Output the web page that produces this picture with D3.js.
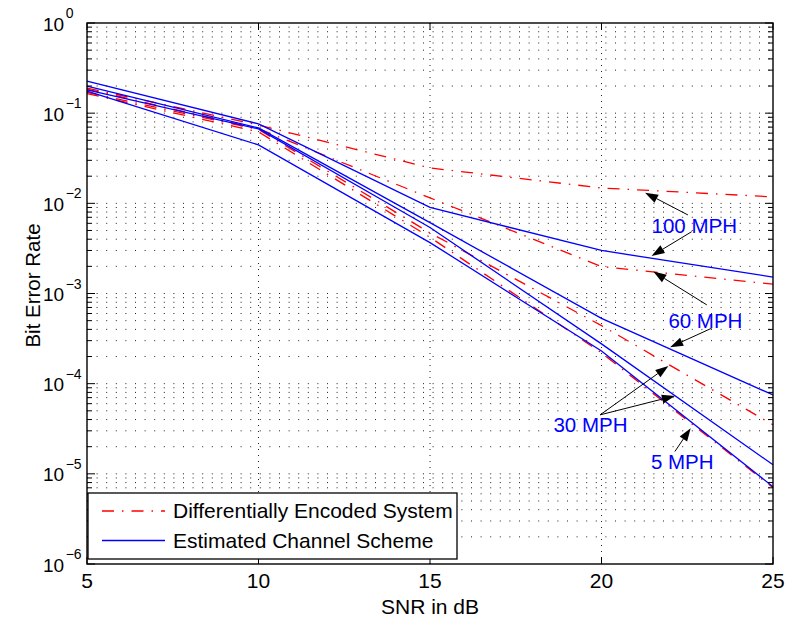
<!DOCTYPE html>
<html>
<head>
<meta charset="utf-8">
<script src="https://cdn.jsdelivr.net/npm/d3@7"></script>
<style>
  body { margin: 0; background: #fff; }
  text { font-family: "Liberation Sans", Arial, Helvetica, sans-serif; }
</style>
</head>
<body>
<div id="chart"></div>
<script>
// SNR points (dB)
var snr = [5, 10, 15, 20, 25];

// Estimated channel scheme (blue, solid)
var est100 = [0.227, 0.076, 0.0090, 0.0030, 0.00152];
var est60  = [0.200, 0.0686, 0.0061, 0.00053, 0.000075];
var est30  = [0.181, 0.0668, 0.0054, 0.000276, 0.0000126];
var est5   = [0.176, 0.0444, 0.00367, 0.00023, 0.0000072];

// Differentially encoded system (red, dash-dot)
var diff100 = [0.190, 0.074, 0.0247, 0.0148, 0.0118];
var diff60  = [0.185, 0.067, 0.0115, 0.00199, 0.00127];
var diff30  = [0.170, 0.066, 0.0047, 0.00044, 0.000035];
var diff5   = [0.165, 0.062, 0.0042, 0.00022, 0.0000070];

var xTicks = [5, 10, 15, 20, 25];
var yExps = [0, -1, -2, -3, -4, -5, -6];

// speed labels: text anchor and arrows, in data units [snr, ber]
var notes = [
  {label: "100 MPH", at: [21.46, 0.00466],
   arrows: [[[22.52, 0.00743], [21.27, 0.01314]], [[22.63, 0.00485], [21.46, 0.00261]]]},
  {label: "60 MPH", at: [21.95, 0.000419],
   arrows: [[[23.07, 0.000748], [21.51, 0.00175]], [[23.21, 0.000412], [22.0, 0.000254]]]},
  {label: "30 MPH", at: [18.6, 0.0000294],
   arrows: [[[19.96, 0.0000451], [21.95, 0.000157]], [[19.96, 0.0000451], [22.14, 0.0000732]]]},
  {label: "5 MPH", at: [21.44, 0.0000113],
   arrows: [[[22.14, 0.0000177], [22.6, 0.0000321]]]}
];

var W = 786, H = 624;
var margin = {top: 23, right: 13, bottom: 60, left: 87},
    width = W - margin.left - margin.right,
    height = H - margin.top - margin.bottom;

var svg = d3.select("#chart").append("svg")
    .attr("width", W)
    .attr("height", H);

var g = svg.append("g")
    .attr("transform", "translate(" + margin.left + "," + margin.top + ")");

var x = d3.scaleLinear().domain([5, 25]).range([0, width]);
var y = d3.scaleLog().domain([1e-6, 1]).range([height, 0]);

// all major + minor y values
var yAll = [];
for (var e = -6; e < 0; e++) {
  for (var m = 1; m < 10; m++) yAll.push(m * Math.pow(10, e));
}
yAll.push(1);

// grid (MATLAB style dotted)
g.append("g").selectAll("line")
  .data(yAll.filter(function(v){ return v > 1e-6 && v < 1; }))
  .enter().append("line")
    .attr("x1", 0).attr("x2", width)
    .attr("y1", function(d){ return y(d); })
    .attr("y2", function(d){ return y(d); })
    .attr("stroke", "#222")
    .attr("stroke-width", 1)
    .attr("stroke-dasharray", "1,8.6");

g.append("g").selectAll("line")
  .data(xTicks.slice(1, -1))
  .enter().append("line")
    .attr("x1", function(d){ return x(d); })
    .attr("x2", function(d){ return x(d); })
    .attr("y1", 0).attr("y2", height)
    .attr("stroke", "#222")
    .attr("stroke-width", 1)
    .attr("stroke-dasharray", "1,5");

// lines
var line = d3.line()
  .x(function(d){ return x(d[0]); })
  .y(function(d){ return y(d[1]); });

function zipSeries(vals) { return snr.map(function(s, i){ return [s, vals[i]]; }); }

[diff100, diff60, diff30, diff5].forEach(function(s) {
  g.append("path")
    .attr("d", line(zipSeries(s)))
    .attr("fill", "none")
    .attr("stroke", "#ff0000")
    .attr("stroke-width", 1.3)
    .attr("stroke-dasharray", "12,8,1.5,8");
});

[est100, est60, est30, est5].forEach(function(s) {
  g.append("path")
    .attr("d", line(zipSeries(s)))
    .attr("fill", "none")
    .attr("stroke", "#0000ff")
    .attr("stroke-width", 1.3);
});

// ticks inside the box
var tk = g.append("g").attr("stroke", "#000").attr("stroke-width", 1);
yAll.forEach(function(v) {
  var major = Math.abs(Math.log10(v) - Math.round(Math.log10(v))) < 1e-9;
  var len = major ? 8 : 5;
  tk.append("line").attr("x1", 0).attr("x2", len).attr("y1", y(v)).attr("y2", y(v));
  tk.append("line").attr("x1", width).attr("x2", width - len).attr("y1", y(v)).attr("y2", y(v));
});
xTicks.forEach(function(v) {
  tk.append("line").attr("x1", x(v)).attr("x2", x(v)).attr("y1", height).attr("y2", height - 7);
  tk.append("line").attr("x1", x(v)).attr("x2", x(v)).attr("y1", 0).attr("y2", 7);
});

// frame
g.append("rect")
  .attr("width", width).attr("height", height)
  .attr("fill", "none").attr("stroke", "#000").attr("stroke-width", 1.4);

// x tick labels
g.append("g").selectAll("text")
  .data(xTicks)
  .enter().append("text")
    .attr("x", function(d){ return x(d); })
    .attr("y", height + 24)
    .attr("text-anchor", "middle")
    .attr("font-size", 21)
    .text(function(d){ return d; });

// y tick labels 10^n
var yl = g.append("g").selectAll("text")
  .data(yExps)
  .enter().append("text")
    .attr("x", 43 - margin.left)
    .attr("y", function(d){ return y(Math.pow(10, d)) + 7.5; })
    .attr("font-size", 19);
yl.append("tspan").text("10");
yl.append("tspan")
  .attr("dx", 1.5)
  .attr("dy", -12.5)
  .attr("font-size", 14)
  .text(function(d){ return d === 0 ? "0" : "\u2212" + (-d); });

// axis titles
g.append("text")
  .attr("x", width / 2)
  .attr("y", height + 50)
  .attr("text-anchor", "middle")
  .attr("font-size", 21)
  .text("SNR in dB");

g.append("text")
  .attr("transform", "translate(" + (40 - margin.left) + "," + (height / 2 - 8) + ") rotate(-90)")
  .attr("text-anchor", "middle")
  .attr("font-size", 20.5)
  .text("Bit Error Rate");

// annotations
var ann = g.append("g");
notes.forEach(function(n) {
  ann.append("text")
    .attr("x", x(n.at[0]))
    .attr("y", y(n.at[1]))
    .attr("font-size", 20.5)
    .attr("fill", "#0000ff")
    .text(n.label);
  n.arrows.forEach(function(a) {
    var x0 = x(a[0][0]), y0 = y(a[0][1]), x1 = x(a[1][0]), y1 = y(a[1][1]);
    var ang = Math.atan2(y1 - y0, x1 - x0);
    var hl = 13, hw = 4.5;
    var bx = x1 - hl * Math.cos(ang), by = y1 - hl * Math.sin(ang);
    ann.append("line")
      .attr("x1", x0).attr("y1", y0).attr("x2", bx).attr("y2", by)
      .attr("stroke", "#000").attr("stroke-width", 1);
    var pts = [
      [x1, y1],
      [bx + hw * Math.sin(ang), by - hw * Math.cos(ang)],
      [bx - hw * Math.sin(ang), by + hw * Math.cos(ang)]
    ];
    ann.append("path")
      .attr("d", "M" + pts.map(function(p){ return p.join(","); }).join("L") + "Z")
      .attr("fill", "#000");
  });
});

// legend
var lg = g.append("g").attr("transform", "translate(1," + (height - 71) + ")");
lg.append("rect")
  .attr("width", 369).attr("height", 66)
  .attr("fill", "#fff").attr("stroke", "#000").attr("stroke-width", 1.3);
var legendItems = [
  {name: "Differentially Encoded System", color: "#ff0000", dash: "12,8,1.5,8"},
  {name: "Estimated Channel Scheme", color: "#0000ff", dash: null}
];
legendItems.forEach(function(it, i) {
  var ly = 18 + i * 29.5;
  lg.append("line")
    .attr("x1", 14).attr("x2", 77).attr("y1", ly).attr("y2", ly)
    .attr("stroke", it.color).attr("stroke-width", 1.3)
    .attr("stroke-dasharray", it.dash);
  lg.append("text")
    .attr("x", 85).attr("y", ly + 7)
    .attr("font-size", 21)
    .text(it.name);
});
</script>
</body>
</html>
